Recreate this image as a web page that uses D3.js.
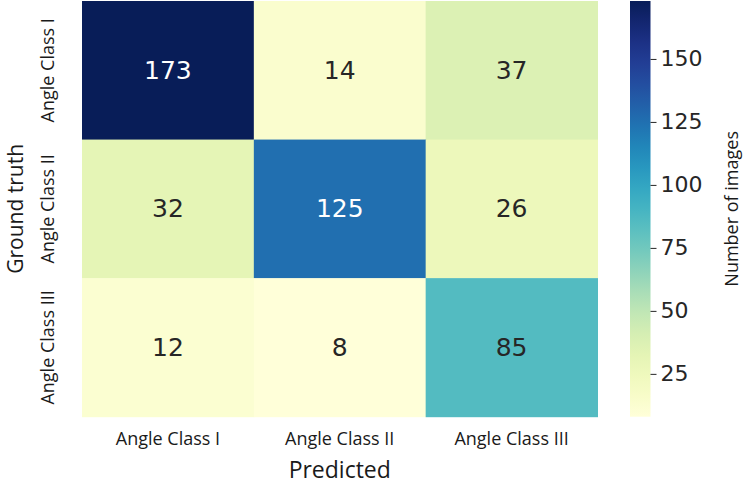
<!DOCTYPE html>
<html>
<head>
<meta charset="utf-8">
<script src="https://cdn.jsdelivr.net/npm/d3@7"></script>
<style>
  body { margin: 0; background: #fff; }
  svg { display: block; }
</style>
</head>
<body>
<svg width="744" height="485"></svg>
<script>
// Confusion matrix data
let classes = ["Angle Class I", "Angle Class II", "Angle Class III"];
let row1 = [173, 14, 37];
let row2 = [32, 125, 26];
let row3 = [12, 8, 85];
let matrix = [row1, row2, row3];
let colorTicks = [25, 50, 75, 100, 125, 150];
let vMin = 8;
let vMax = 173;

let svg = d3.select("svg");
let labelFont = "'Open Sans', 'Noto Sans', sans-serif";
let numFont = "'DejaVu Sans', sans-serif";

// Plot area
let plotLeft = 82, plotRight = 597.5, plotTop = 1, plotBottom = 416.7;

let x = d3.scaleBand().domain(classes).range([plotLeft, plotRight]);
let y = d3.scaleBand().domain(classes).range([plotTop, plotBottom]);
let color = d3.scaleSequential(d3.interpolateYlGnBu).domain([vMin, vMax]);

let cells = [];
matrix.forEach((row, i) => {
    row.forEach((v, j) => {
        cells.push({ truth: classes[i], pred: classes[j], value: v });
    });
});

let heat = svg.append("g").attr("class", "heat");
heat.selectAll("rect")
    .data(cells)
    .enter().append("rect")
    .attr("x", d => x(d.pred))
    .attr("y", d => y(d.truth))
    .attr("width", x.bandwidth() + 0.5)
    .attr("height", y.bandwidth() + 0.5)
    .attr("fill", d => color(d.value));

// Annotations: white on dark cells, dark grey on light ones
heat.selectAll("text")
    .data(cells)
    .enter().append("text")
    .attr("x", d => x(d.pred) + x.bandwidth() / 2)
    .attr("y", d => y(d.truth) + y.bandwidth() / 2)
    .attr("text-anchor", "middle")
    .attr("dominant-baseline", "central")
    .attr("font-family", numFont)
    .attr("font-size", 25)
    .attr("fill", d => {
        let c = d3.rgb(color(d.value));
        let lum = 0.2126 * c.r + 0.7152 * c.g + 0.0722 * c.b;
        return lum < 110 ? "#ffffff" : "#262626";
    })
    .text(d => d.value);

// X tick labels
svg.append("g").selectAll("text")
    .data(classes)
    .enter().append("text")
    .attr("x", d => x(d) + x.bandwidth() / 2)
    .attr("y", 445)
    .attr("text-anchor", "middle")
    .attr("font-family", labelFont)
    .attr("font-size", 18)
    .attr("fill", "#1a1a1a")
    .text(d => d);

// Y tick labels (rotated)
svg.append("g").selectAll("text")
    .data(classes)
    .enter().append("text")
    .attr("transform", d => `translate(54,${y(d) + y.bandwidth() / 2}) rotate(-90)`)
    .attr("text-anchor", "middle")
    .attr("font-family", labelFont)
    .attr("font-size", 18)
    .attr("fill", "#1a1a1a")
    .text(d => d);

// Axis titles
svg.append("text")
    .attr("x", (plotLeft + plotRight) / 2)
    .attr("y", 478)
    .attr("text-anchor", "middle")
    .attr("font-family", labelFont)
    .attr("font-size", 23)
    .attr("fill", "#1a1a1a")
    .text("Predicted");

svg.append("text")
    .attr("transform", `translate(23,${(plotTop + plotBottom) / 2}) rotate(-90)`)
    .attr("text-anchor", "middle")
    .attr("font-family", labelFont)
    .attr("font-size", 21)
    .attr("fill", "#1a1a1a")
    .text("Ground truth");

// Colorbar
let cbLeft = 630, cbWidth = 20.5;
let cbScale = d3.scaleLinear().domain([vMin, vMax]).range([plotBottom, plotTop]);

let grad = svg.append("defs").append("linearGradient")
    .attr("id", "cbGrad")
    .attr("x1", 0).attr("y1", 1).attr("x2", 0).attr("y2", 0);
d3.range(0, 1.0001, 0.05).forEach(t => {
    grad.append("stop")
        .attr("offset", t)
        .attr("stop-color", d3.interpolateYlGnBu(t));
});

svg.append("rect")
    .attr("x", cbLeft)
    .attr("y", plotTop)
    .attr("width", cbWidth)
    .attr("height", plotBottom - plotTop)
    .attr("fill", "url(#cbGrad)");

let cbAxis = svg.append("g")
    .attr("transform", `translate(${cbLeft + cbWidth},0)`)
    .call(d3.axisRight(cbScale).tickValues(colorTicks).tickSize(6).tickPadding(4));
cbAxis.select(".domain").remove();
cbAxis.selectAll("line").attr("stroke", "#262626").attr("stroke-width", 1);
cbAxis.selectAll("text")
    .attr("font-family", numFont)
    .attr("font-size", 22)
    .attr("fill", "#262626");

svg.append("text")
    .attr("transform", `translate(738,${(plotTop + plotBottom) / 2}) rotate(-90)`)
    .attr("text-anchor", "middle")
    .attr("font-family", labelFont)
    .attr("font-size", 18)
    .attr("fill", "#1a1a1a")
    .text("Number of images");
</script>
</body>
</html>
